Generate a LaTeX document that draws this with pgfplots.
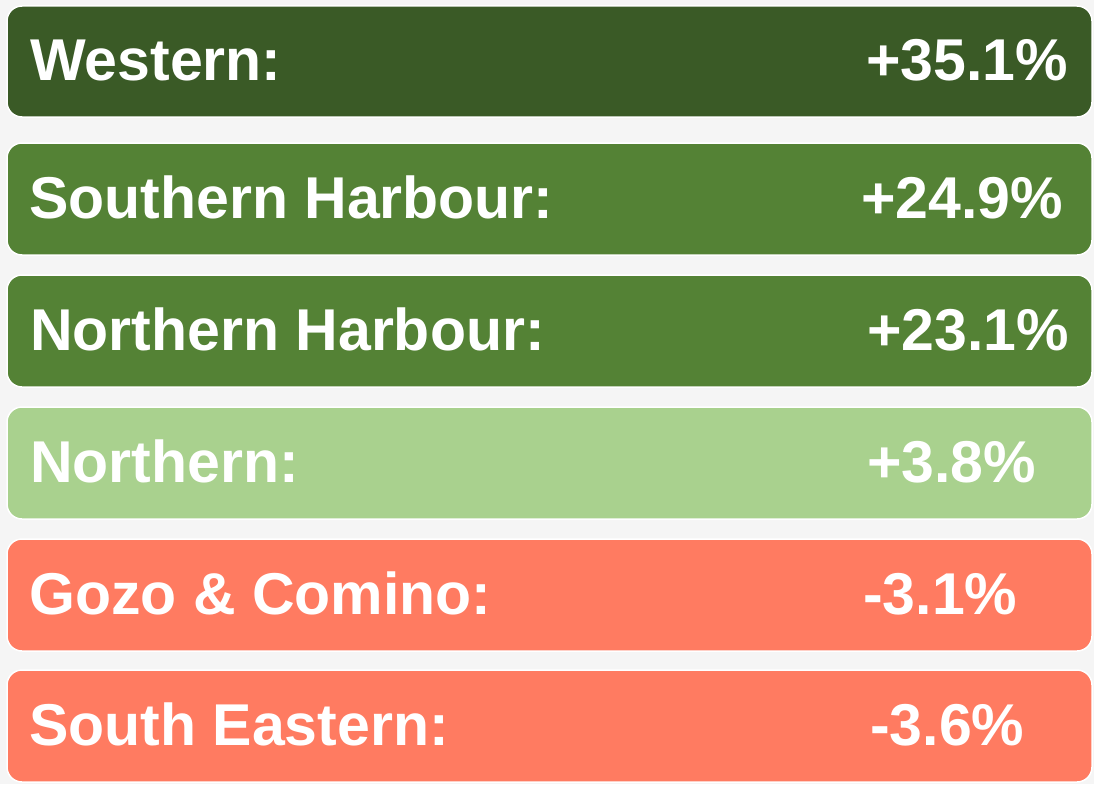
\documentclass[border=0pt]{standalone}
\usepackage{pgfplots}
\pgfplotsset{compat=1.18}
\usepackage{fontspec}
\setmainfont{Liberation Sans}
\definecolor{bgc}{HTML}{F5F5F5}
\definecolor{dgreen}{HTML}{3A5A26}
\definecolor{mgreen}{HTML}{548235}
\definecolor{lgreen}{HTML}{A9D18E}
\definecolor{coral}{HTML}{FF7B61}
\tikzset{lbl/.style={anchor=base west, inner sep=0pt, text=white, font=\fontsize{59}{61}\selectfont\bfseries}}
\begin{document}
\begin{tikzpicture}
\begin{axis}[
  width=1094pt, height=784pt, scale only axis,
  xmin=0, xmax=1094, ymin=0, ymax=784, y dir=reverse,
  hide axis, clip=false,
  every axis plot/.append style={draw=white, line width=1.5pt, rounded corners=15pt},
]
\addplot[fill=bgc, draw=none, rounded corners=0pt, line width=0pt] coordinates {(0,0) (1094,0) (1094,784) (0,784)} -- cycle;
\addplot[fill=dgreen] coordinates {(550,6) (1092,6) (1092,117) (7,117) (7,6)} -- cycle;
\addplot[fill=mgreen] coordinates {(550,143) (1092,143) (1092,255) (7,255) (7,143)} -- cycle;
\addplot[fill=mgreen] coordinates {(550,275) (1092,275) (1092,387) (7,387) (7,275)} -- cycle;
\addplot[fill=lgreen] coordinates {(550,407) (1092,407) (1092,519) (7,519) (7,407)} -- cycle;
\addplot[fill=coral] coordinates {(550,539) (1092,539) (1092,651) (7,651) (7,539)} -- cycle;
\addplot[fill=coral] coordinates {(550,670) (1092,670) (1092,782) (7,782) (7,670)} -- cycle;

\node[lbl] at (axis cs:30,80.5) {Western:};
\node[lbl] at (axis cs:29,218) {Southern Harbour:};
\node[lbl] at (axis cs:30,350) {Northern Harbour:};
\node[lbl] at (axis cs:30,482) {Northern:};
\node[lbl] at (axis cs:29,614) {Gozo \& Comino:};
\node[lbl] at (axis cs:29,745) {South Eastern:};

\node[lbl] at (axis cs:866,80.5) {+35.1\%};
\node[lbl] at (axis cs:861,218) {+24.9\%};
\node[lbl] at (axis cs:867,350) {+23.1\%};
\node[lbl] at (axis cs:867,482) {+3.8\%};
\node[lbl] at (axis cs:863,614) {-3.1\%};
\node[lbl] at (axis cs:870,745) {-3.6\%};
\end{axis}
\end{tikzpicture}
\end{document}
